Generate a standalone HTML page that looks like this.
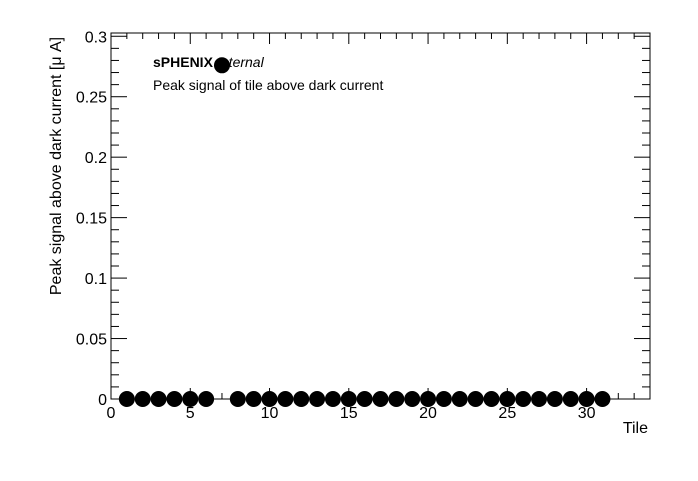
<!DOCTYPE html>
<html><head><meta charset="utf-8"><style>
html,body{margin:0;padding:0;background:#fff;}
svg text{font-family:"Liberation Sans",sans-serif;}
</style></head><body>
<svg id="chart" width="698" height="476" xmlns="http://www.w3.org/2000/svg">
<rect x="0" y="0" width="698" height="476" fill="#fff"/>
<g id="axes"></g>
<g id="marks"></g>
<text x="153" y="67" font-size="14" font-weight="bold">sPHENIX</text>
<text x="217" y="67" font-size="14" font-style="italic">Internal</text>
<text x="153" y="90" font-size="14">Peak signal of tile above dark current</text>
<text x="648" y="433" font-size="16" text-anchor="end">Tile</text>
<text transform="translate(61,166) rotate(-90)" font-size="16" text-anchor="middle">Peak signal above dark current [μ A]</text>
</svg>
<script>
const tiles = [1,2,3,4,5,6,7,8,9,10,11,12,13,14,15,16,17,18,19,20,21,22,23,24,25,26,27,28,29,30,31];
const peakValues = [0,0,0,0,0,0,0.276,0,0,0,0,0,0,0,0,0,0,0,0,0,0,0,0,0,0,0,0,0,0,0,0];
const xTickLabels = [0,5,10,15,20,25,30];
const yTickLabels = ["0","0.05","0.1","0.15","0.2","0.25","0.3"];

const L=111,R=650,T=33,B=399;
const xMin=0,xMax=34,yMin=0,yMax=0.3027;
const xs=v=>L+(v-xMin)/(xMax-xMin)*(R-L);
const ys=v=>B-(v-yMin)/(yMax-yMin)*(B-T);
const NS="http://www.w3.org/2000/svg";
const axes=document.getElementById('axes');
const marks=document.getElementById('marks');
function mk(tag,attrs,parent){const e=document.createElementNS(NS,tag);for(const k in attrs)e.setAttribute(k,attrs[k]);parent.appendChild(e);return e;}

const frame=mk('rect',{x:L,y:T,width:R-L,height:B-T,fill:'none',stroke:'#000','stroke-width':1},axes);



for(let i=0;i<=34;i++){
  const x=xs(i);const len=(i%5===0)?11:6;
  const t1=mk('line',{x1:x,x2:x,y1:B,y2:B-len,stroke:'#000'},axes);
  
  
  const t2=mk('line',{x1:x,x2:x,y1:T,y2:T+len,stroke:'#000'},axes);
  
  
}
xTickLabels.forEach(v=>{
  const t=mk('text',{x:xs(v),y:B+19,'font-size':16,'text-anchor':'middle'},axes);
  t.textContent=v;
  
  
});
for(let i=0;i<=30;i++){
  const v=i*0.01;const y=ys(v);const len=(i%5===0)?16:8;
  const t1=mk('line',{x1:L,x2:L+len,y1:y,y2:y,stroke:'#000'},axes);
  
  
  const t2=mk('line',{x1:R,x2:R-len,y1:y,y2:y,stroke:'#000'},axes);
  
  
}
yTickLabels.forEach(s=>{
  const t=mk('text',{x:L-4,y:ys(parseFloat(s))+6,'font-size':16,'text-anchor':'end'},axes);
  t.textContent=s;
  
  
});
tiles.forEach((tile,i)=>{
  const c=mk('circle',{cx:xs(tile),cy:ys(peakValues[i]),r:8,fill:'#000'},marks);
  
  
});
</script>
</body></html>
